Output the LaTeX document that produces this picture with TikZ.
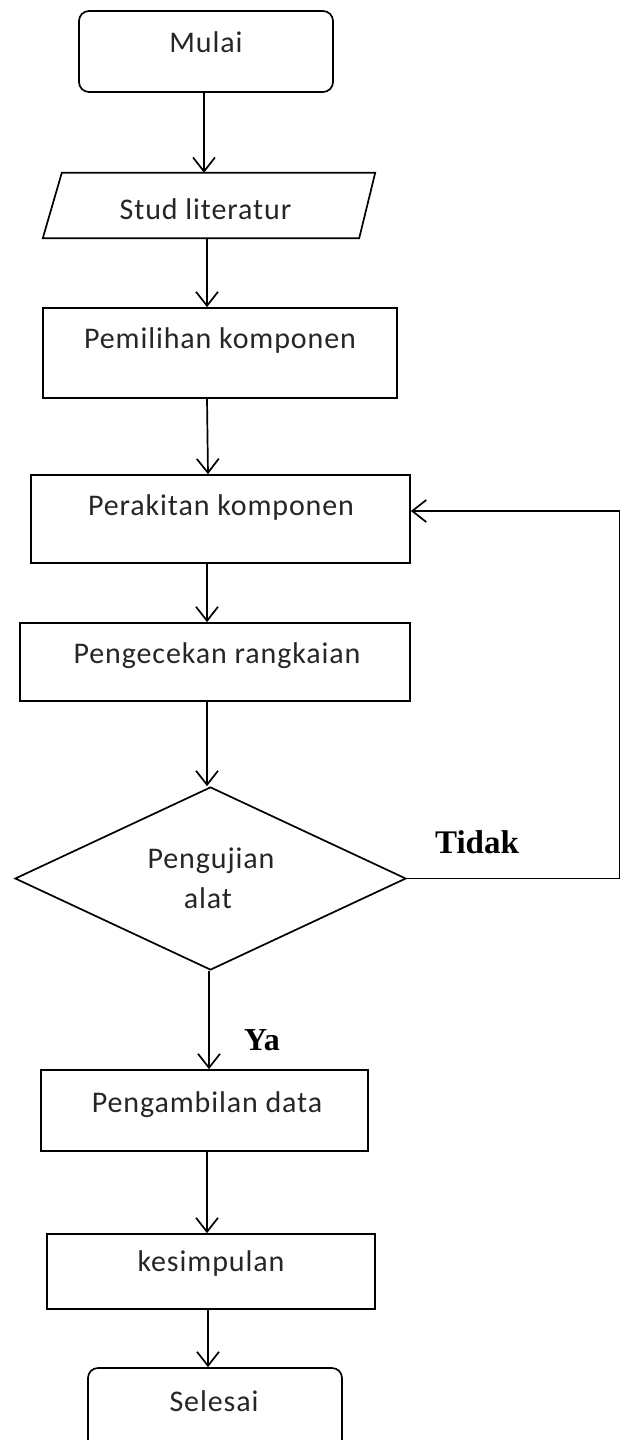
\documentclass[tikz,border=0pt]{standalone}
\usepackage{fontspec}
\setmainfont{Carlito}[LetterSpace=3]
\newfontfamily\labelfont{Liberation Serif}
\usetikzlibrary{shapes.geometric,arrows.meta}

\tikzset{
  box/.style={draw, line width=1.7pt, inner sep=0pt},
  startstop/.style={box, rounded corners=10pt},
  frame/.style={inner sep=0pt},
  decision/.style={box, diamond},
  txt/.style={anchor=base, inner sep=0pt, font=\fontsize{30}{35}\selectfont, text=black!85},
  yesno/.style={anchor=base, inner sep=0pt, font=\labelfont\bfseries\fontsize{33}{38}\selectfont},
  arr/.style={line width=1.7pt, -{Straight Barb[length=14pt,width=22pt]}},
  line/.style={line width=1.7pt}
}

\begin{document}
\begin{tikzpicture}[x=1pt,y=-1pt]
\useasboundingbox (0,0) rectangle (621,1440);
\clip (0,0) rectangle (621,1440);

% process steps
\node[startstop, minimum width=254, minimum height=81] (mulai) at (206,51.5) {};
\node[frame, minimum width=332, minimum height=65] (studi) at (209,205.5) {};
\draw[line, line join=miter] (studi.south west) -- ([xshift=19pt]studi.north west)
  -- (studi.north east) -- ([xshift=-16pt]studi.south east) -- cycle;
\node[box, minimum width=354, minimum height=90] (pilih) at (220,353) {};
\node[box, minimum width=379, minimum height=88] (rakit) at (220.5,519) {};
\node[box, minimum width=390, minimum height=78] (cek) at (215,662) {};
\node[decision, minimum width=391, minimum height=183] (uji) at (210.5,878.5) {};
\node[box, minimum width=327, minimum height=81] (ambil) at (204.5,1110.5) {};
\node[box, minimum width=328, minimum height=75] (simpul) at (211,1271.5) {};
\node[startstop, minimum width=254, minimum height=81] (selesai) at (215,1408.5) {};

% step texts
\node[txt] (tmulai) at (206,52.5) {Mulai};
\node[txt] (tstudi) at (205.5,219) {Stud literatur};
\node[txt] (tpilih) at (220,348) {Pemilihan komponen};
\node[txt] (trakit) at (221,515) {Perakitan komponen};
\node[txt] (tcek) at (217,663) {Pengecekan rangkaian};
\node[txt] (tuji1) at (211,868) {Pengujian};
\node[txt] (tuji2) at (208,908) {alat};
\node[txt] (tambil) at (207,1112) {Pengambilan data};
\node[txt] (tsimpul) at (211,1271) {kesimpulan};
\node[txt] (tselesai) at (214,1411) {Selesai};

% branch labels
\node[yesno] (tidak) at (477,853) {Tidak};
\node[yesno, font=\labelfont\bfseries\fontsize{32}{36}\selectfont] (ya) at (262,1050) {Ya};

% flow
\coordinate (col) at (207,0);
\coordinate (fb) at (619.5,511);
\draw[arr] (mulai.south -| 204,0) -- (studi.north -| 204,0);
\draw[arr] (studi.south -| col) -- (pilih.north -| col);
\draw[arr] (pilih.south -| col) -- (rakit.north -| 208,0);
\draw[arr] (rakit.south -| col) -- (cek.north -| col);
\draw[arr] (cek.south -| col) -- (uji.north -| col);
\draw[arr] (uji.south -| 209,0) -- (ambil.north -| 209,0);
\draw[arr] (ambil.south -| col) -- (simpul.north -| col);
\draw[arr] (simpul.south -| 208,0) -- (selesai.north -| 208,0);

% loop back when the test fails
\draw[arr] (uji.east) -- (uji.east -| fb) -- (fb) -- (fb -| rakit.east);
\end{tikzpicture}
\end{document}
